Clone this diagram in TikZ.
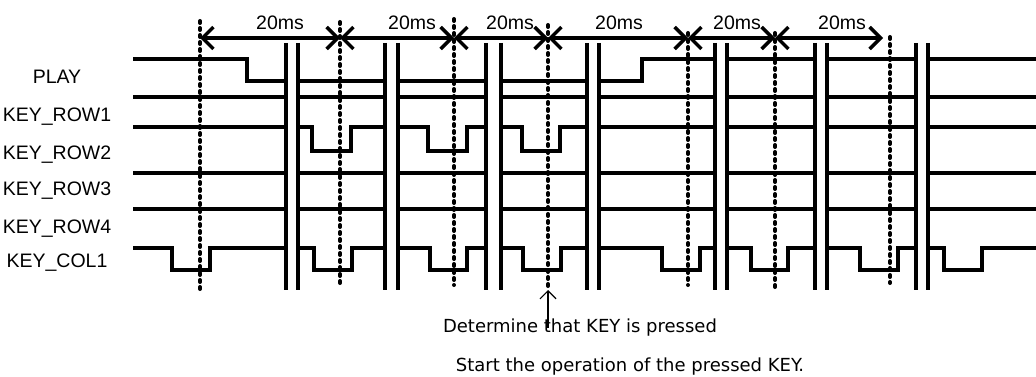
\documentclass[tikz,border=0pt]{standalone}
\usepackage{fontspec}
\setmainfont{Liberation Sans}
\newfontfamily\notefont{DejaVu Sans}
\usepackage{tikz}
\usetikzlibrary{arrows.meta}

\tikzset{
  sig/.style={line width=3.2pt},
  brk/.style={line width=3.8pt},
  guide/.style={line width=4pt,line cap=round,dash pattern=on 2pt off 5pt},
  span/.style={line width=3.4pt,{Straight Barb[length=11pt,width=22pt]}-{Straight Barb[length=11pt,width=22pt]}},
  lbl/.style={font=\fontsize{19.5}{21}\selectfont,inner sep=0pt},
  tick/.style={font=\fontsize{19.5}{21}\selectfont,inner sep=0pt},
  note/.style={font=\notefont\fontsize{18}{20}\selectfont,inner sep=0pt}
}

\begin{document}
\begin{tikzpicture}[x=1pt,y=-1pt]
\useasboundingbox (0,0) rectangle (1036,377);

% Labels
\node[lbl] (play) at (57,77) {PLAY};
\node[lbl] (row1) at (57,117) {KEY\_ROW1};
\node[lbl] (row2) at (57,155) {KEY\_ROW2};
\node[lbl] (row3) at (57,191) {KEY\_ROW3};
\node[lbl] (row4) at (57,229) {KEY\_ROW4};
\node[lbl] (col1) at (57,263) {KEY\_COL1};

% Sampling instants
\draw[guide] (200,21) -- (200,293);
\draw[guide] (340,22) -- (340,286);
\draw[guide] (454,19) -- (454,285);
\draw[guide] (548,25) -- (548,290);
\draw[guide] (688,33) -- (688,285);
\draw[guide] (775,33) -- (775,287);
\draw[guide] (890,37) -- (890,283);

% 20ms spans
\coordinate (t1) at (200,38);
\coordinate (t2) at (340,38);
\coordinate (t3) at (454,38);
\coordinate (t4) at (548,38);
\coordinate (t5) at (688,38);
\coordinate (t6) at (775,38);
\coordinate (t7) at (883,38);
\draw[span] (t1) -- (t2);
\draw[span] (t2) -- (t3);
\draw[span] (t3) -- (t4);
\draw[span] (t4) -- (t5);
\draw[span] (t5) -- (t6);
\draw[span] (t6) -- (t7);
\node[tick] (ms1) at (280,23) {20ms};
\node[tick] (ms2) at (412,23) {20ms};
\node[tick] (ms3) at (510,23) {20ms};
\node[tick] (ms4) at (619,23) {20ms};
\node[tick] (ms5) at (737,23) {20ms};
\node[tick] (ms6) at (842,23) {20ms};

% Breaks
\foreach \a/\b in {286/298,385/398,486/501,587/599,715/727,815/827,916/928}{
  \draw[brk] (\a,43) -- (\a,290);
  \draw[brk] (\b,43) -- (\b,290);
}

% PLAY
\draw[sig] (133,59) -- (247,59) -- (247,81) -- (286,81);
\draw[sig] (298,81) -- (385,81);
\draw[sig] (398,81) -- (486,81);
\draw[sig] (501,81) -- (587,81);
\draw[sig] (599,81) -- (642,81) -- (642,59) -- (715,59);
\draw[sig] (727,59) -- (815,59);
\draw[sig] (827,59) -- (916,59);
\draw[sig] (928,59) -- (1036,59);

% KEY_ROW1, KEY_ROW3, KEY_ROW4
\foreach \y in {97,173,209}{
  \foreach \a/\b in {133/286,298/385,398/486,501/587,599/715,727/815,827/916,928/1036}
    \draw[sig] (\a,\y) -- (\b,\y);
}

% KEY_ROW2
\draw[sig] (133,127) -- (286,127);
\draw[sig] (298,127) -- (312,127) -- (312,151) -- (351,151) -- (351,127) -- (385,127);
\draw[sig] (398,127) -- (428,127) -- (428,151) -- (467,151) -- (467,127) -- (486,127);
\draw[sig] (501,127) -- (522,127) -- (522,151) -- (560,151) -- (560,127) -- (587,127);
\draw[sig] (599,127) -- (715,127);
\draw[sig] (727,127) -- (815,127);
\draw[sig] (827,127) -- (916,127);
\draw[sig] (928,127) -- (1036,127);

% KEY_COL1
\draw[sig] (133,248) -- (172,248) -- (172,270) -- (210,270) -- (210,248) -- (286,248);
\draw[sig] (298,248) -- (314,248) -- (314,270) -- (352,270) -- (352,248) -- (385,248);
\draw[sig] (398,248) -- (430,248) -- (430,270) -- (467,270) -- (467,248) -- (486,248);
\draw[sig] (501,248) -- (523,248) -- (523,270) -- (561,270) -- (561,248) -- (587,248);
\draw[sig] (599,248) -- (662,248) -- (662,270) -- (700,270) -- (700,248) -- (715,248);
\draw[sig] (727,248) -- (751,248) -- (751,270) -- (788,270) -- (788,248) -- (815,248);
\draw[sig] (827,248) -- (860,248) -- (860,270) -- (898,270) -- (898,248) -- (916,248);
\draw[sig] (928,248) -- (944,248) -- (944,270) -- (982,270) -- (982,248) -- (1036,248);

% Notes
\node[note] (judge) at (580,328) {Determine that KEY is pressed};
\node[note] (start) at (630,367) {Start the operation of the pressed KEY.};
\coordinate (pressed) at (548,290);
\draw[line width=1.2pt,-{Straight Barb[length=8pt,width=16pt]}] (pressed |- judge.center) -- (pressed);
\end{tikzpicture}
\end{document}
